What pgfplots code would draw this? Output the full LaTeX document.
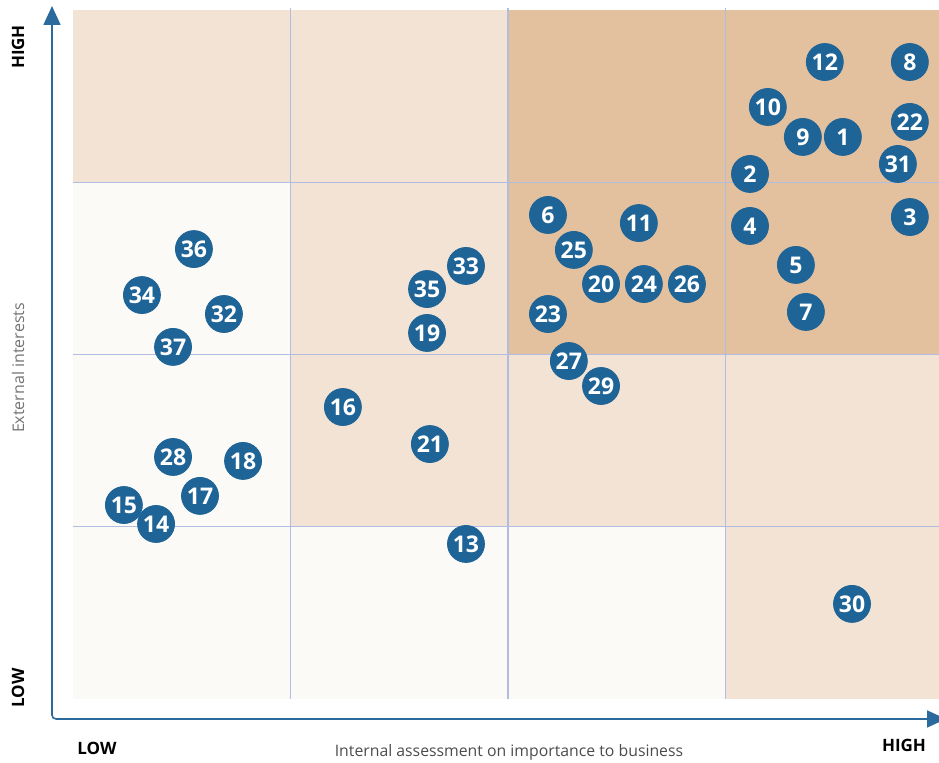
\documentclass[border=0pt]{standalone}
\usepackage{pgfplots}
\pgfplotsset{compat=1.18}
\usepackage{pgfplotstable}
\usepackage{fontspec}
\setmainfont{Open Sans}
\usetikzlibrary{arrows.meta}

\definecolor{cream}{HTML}{FCFAF6}
\definecolor{lighttan}{HTML}{F3E3D4}
\definecolor{darktan}{HTML}{E3C19F}
\definecolor{dotblue}{HTML}{1F6497}
\definecolor{arrowblue}{HTML}{2A6A9C}
\definecolor{gridcol}{HTML}{B0BCE0}

% topics: label, internal (x), external (y), in grid cells 0..4
\pgfplotstableread{
label x y
1 3.540 3.263
2 3.113 3.048
3 3.848 2.798
4 3.113 2.746
5 3.324 2.520
6 2.184 2.810
7 3.370 2.247
8 3.848 3.698
9 3.356 3.263
10 3.195 3.437
11 2.602 2.763
12 3.457 3.698
13 1.807 0.900
14 0.382 1.016
15 0.234 1.126
16 1.241 1.695
17 0.584 1.179
18 0.782 1.382
19 1.628 2.125
20 2.428 2.409
21 1.641 1.480
22 3.848 3.350
23 2.184 2.235
24 2.625 2.409
25 2.303 2.607
26 2.823 2.409
27 2.280 1.962
28 0.460 1.405
29 2.428 1.817
30 3.582 0.552
31 3.793 3.106
32 0.694 2.235
33 1.807 2.514
34 0.317 2.345
35 1.628 2.380
36 0.556 2.612
37 0.460 2.044
}\topics

\begin{document}
\begin{tikzpicture}
\begin{axis}[
    anchor=south west, at={(36.5pt,32pt)},
    scale only axis,
    width=433pt, height=344.5pt,
    xmin=0, xmax=3.982, ymin=0, ymax=4,
    axis line style={draw=none},
    xtick=\empty, ytick=\empty,
    clip=false,
]
% cell backgrounds, row by row from the top
\addplot[fill=lighttan, draw=none] coordinates {(0,3)(2,3)(2,4)(0,4)} --cycle;
\addplot[fill=darktan, draw=none] coordinates {(2,3)(3.982,3)(3.982,4)(2,4)} --cycle;
\addplot[fill=cream, draw=none] coordinates {(0,2)(1,2)(1,3)(0,3)} --cycle;
\addplot[fill=lighttan, draw=none] coordinates {(1,2)(2,2)(2,3)(1,3)} --cycle;
\addplot[fill=darktan, draw=none] coordinates {(2,2)(3.982,2)(3.982,3)(2,3)} --cycle;
\addplot[fill=cream, draw=none] coordinates {(0,1)(1,1)(1,2)(0,2)} --cycle;
\addplot[fill=lighttan, draw=none] coordinates {(1,1)(3.982,1)(3.982,2)(1,2)} --cycle;
\addplot[fill=cream, draw=none] coordinates {(0,0)(3,0)(3,1)(0,1)} --cycle;
\addplot[fill=lighttan, draw=none] coordinates {(3,0)(3.982,0)(3.982,1)(3,1)} --cycle;

% grid lines
\foreach \k in {1,2,3} {
  \edef\temp{\noexpand\draw[gridcol, line width=0.55pt] (axis cs:\k,0) -- (axis cs:\k,4.01);
    \noexpand\draw[gridcol, line width=0.55pt] (axis cs:0,\k) -- (axis cs:3.982,\k);}
  \temp
}

\addplot[only marks, mark=*, mark size=9.25pt, color=dotblue,
    point meta=explicit symbolic,
    nodes near coords, nodes near coords align=center,
    every node near coord/.append style={text=white, font=\fontsize{11.5}{12}\selectfont\bfseries, inner sep=0pt}]
    table[x=x, y=y, meta=label] {\topics};
\end{axis}

\begin{scope}[x=0.5pt,y=0.5pt]
\draw[arrowblue, line width=0.8pt, rounded corners=2pt,
      {Triangle[length=9.5pt,width=8.5pt]}-{Triangle[length=9.5pt,width=8.5pt]}]
  (52,757) -- (52,44) -- (946,44);
\node[rotate=90, font=\fontsize{8.5}{9}\selectfont\bfseries] at (18,716) {HIGH};
\node[rotate=90, font=\fontsize{8.5}{9}\selectfont\bfseries] at (18,75) {LOW};
\node[rotate=90, text=black!55, font=\fontsize{8}{9}\selectfont] at (18,395) {External interests};
\node[font=\fontsize{8.5}{9}\selectfont\bfseries] at (97,15) {LOW};
\node[font=\fontsize{8.5}{9}\selectfont\bfseries] at (904,18) {HIGH};
\node[text=black!70, font=\fontsize{7.9}{9}\selectfont] at (509,11) {Internal assessment on importance to business};
\pgfresetboundingbox
\path[use as bounding box] (0,0) rectangle (939,763);
\end{scope}
\end{tikzpicture}
\end{document}
